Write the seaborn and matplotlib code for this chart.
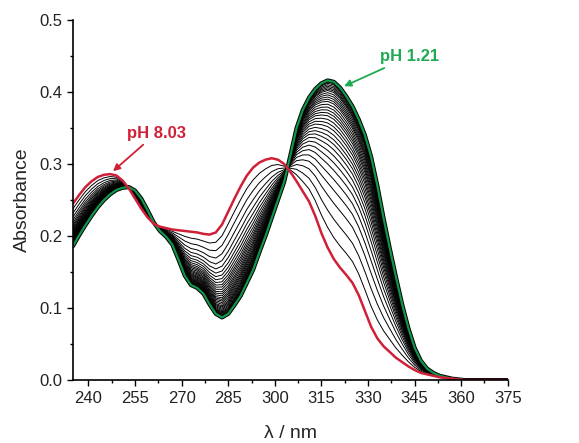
import numpy as np
import pandas as pd
import matplotlib
matplotlib.use("Agg")
import matplotlib.pyplot as plt
import seaborn as sns

# wavelength grid (nm)
wavelength = list(range(235, 377, 2))

# pH 1.21 spectrum (green)
abs_ph121 = [0.186, 0.201, 0.215, 0.228, 0.240, 0.250, 0.258, 0.264, 0.267, 0.268,
             0.263, 0.252, 0.236, 0.219, 0.207, 0.199, 0.188, 0.167, 0.145, 0.132,
             0.128, 0.120, 0.105, 0.092, 0.087, 0.092, 0.104, 0.117, 0.135, 0.153,
             0.177, 0.200, 0.225, 0.250, 0.275, 0.312, 0.350, 0.375, 0.392, 0.404,
             0.412, 0.416, 0.414, 0.406, 0.394, 0.380, 0.362, 0.340, 0.310, 0.270,
             0.225, 0.183, 0.143, 0.105, 0.072, 0.045, 0.027, 0.016, 0.010, 0.006,
             0.004, 0.002, 0.001, 0.0, 0.0, 0.0, 0.0, 0.0, 0.0, 0.0, 0.0]

# pH 8.03 spectrum (red)
abs_ph803 = [0.245, 0.257, 0.268, 0.276, 0.282, 0.285, 0.286, 0.284, 0.277, 0.266,
             0.252, 0.238, 0.226, 0.217, 0.213, 0.211, 0.209, 0.208, 0.207, 0.206,
             0.205, 0.203, 0.202, 0.205, 0.216, 0.234, 0.252, 0.269, 0.284, 0.295,
             0.302, 0.306, 0.308, 0.306, 0.300, 0.289, 0.276, 0.262, 0.248, 0.228,
             0.204, 0.184, 0.168, 0.156, 0.146, 0.135, 0.118, 0.096, 0.074, 0.058,
             0.047, 0.039, 0.031, 0.025, 0.019, 0.014, 0.010, 0.008, 0.006, 0.004,
             0.003, 0.002, 0.001, 0.0, 0.0, 0.0, 0.0, 0.0, 0.0, 0.0, 0.0]

# absorbance at 317 nm of the intermediate titration spectra (black)
peak_317 = [0.212, 0.236, 0.257, 0.274, 0.288, 0.300, 0.310, 0.319, 0.327, 0.334,
            0.340, 0.346, 0.352, 0.357, 0.362, 0.367, 0.371, 0.375, 0.379, 0.383,
            0.387, 0.390, 0.393, 0.396, 0.399, 0.402, 0.404, 0.406, 0.408, 0.410,
            0.412, 0.414]

xticks = [240, 255, 270, 285, 300, 315, 330, 345, 360, 375]
yticks = [0.0, 0.1, 0.2, 0.3, 0.4, 0.5]

sns.set_style("ticks")
plt.rcParams['font.family'] = ['Liberation Sans', 'DejaVu Sans']

wl = np.array(wavelength, dtype=float)
g = np.array(abs_ph121)
r = np.array(abs_ph803)
i317 = wavelength.index(317)
rows = []
for k, pk in enumerate(peak_317):
    f = (pk - r[i317]) / (g[i317] - r[i317])
    spec = r + f * (g - r)
    rows.append(pd.DataFrame({"wl": wl, "A": spec, "curve": k}))
df_mid = pd.concat(rows, ignore_index=True)
df_g = pd.DataFrame({"wl": wl, "A": g})
df_r = pd.DataFrame({"wl": wl, "A": r})

fig = plt.figure(figsize=(5.79, 4.43), dpi=100)
ax = fig.add_axes([0.126, 0.142, 0.751, 0.813])

sns.lineplot(data=df_mid, x="wl", y="A", units="curve", estimator=None,
             color="black", lw=0.7, ax=ax, legend=False)
sns.lineplot(data=df_g, x="wl", y="A", color="black", lw=3.0, ax=ax)
sns.lineplot(data=df_g, x="wl", y="A", color="#12954a", lw=1.6, ax=ax)
sns.lineplot(data=df_r, x="wl", y="A", color="#cf2038", lw=1.8, ax=ax)

ax.set_xlim(235, 375)
ax.set_ylim(0, 0.5)
ax.set_xticks(xticks)
ax.set_yticks(yticks)
ax.set_yticklabels([f"{v:.1f}" for v in yticks])
ax.set_xticks(np.arange(247.5, 375, 15), minor=True)
ax.set_yticks(np.arange(0.05, 0.5, 0.1), minor=True)
ax.tick_params(which="major", direction="out", length=4.5, width=1.0,
               labelsize=12, pad=3, color="black", labelcolor="#222222")
ax.tick_params(which="minor", direction="out", length=2.5, width=1.0, color="black")
for s in ["top", "right"]:
    ax.spines[s].set_visible(False)
for s in ["left", "bottom"]:
    ax.spines[s].set_linewidth(1.2)
    ax.spines[s].set_color("black")

ax.set_xlabel("λ / nm", fontsize=14, labelpad=14)
ax.set_ylabel("Absorbance", fontsize=14, labelpad=6)

ax.annotate("pH 8.03", xy=(247.9, 0.290), xytext=(252.4, 0.343),
            color="#cf2038", fontsize=12, fontweight="bold",
            ha="left", va="center",
            arrowprops=dict(arrowstyle="-|>", color="#cf2038", lw=1.3,
                            shrinkA=1, shrinkB=0, mutation_scale=10))
ax.annotate("pH 1.21", xy=(322.3, 0.408), xytext=(333.8, 0.449),
            color="#1faa52", fontsize=12, fontweight="bold",
            ha="left", va="center",
            arrowprops=dict(arrowstyle="-|>", color="#1faa52", lw=1.3,
                            shrinkA=1, shrinkB=0, mutation_scale=10))

fig.savefig("out.png", dpi=100)
